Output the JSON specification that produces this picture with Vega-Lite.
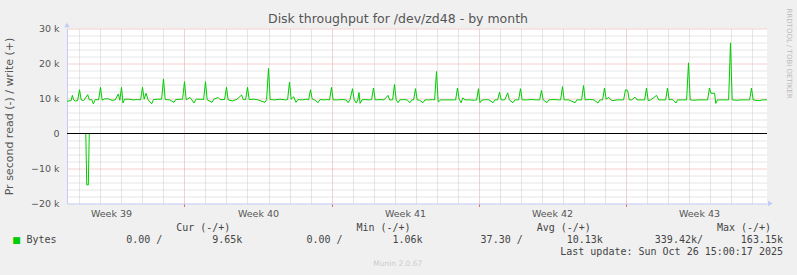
{
  "$schema": "https://vega.github.io/schema/vega-lite/v6.json",
  "width": 700,
  "height": 175,
  "autosize": {"type": "none"},
  "padding": {"left": 67, "top": 28.5, "right": 30, "bottom": 71.5},
  "background": "#f0f0f0",
  "config": {"view": {"fill": "white", "stroke": null}, "font": "DejaVu Sans"},
  "title": {"text": "Disk throughput for /dev/zd48 - by month", "font": "DejaVu Sans", "fontSize": 12.5, "fontWeight": "normal", "color": "#555555", "anchor": "middle", "frame": "group", "dx": -19, "offset": 4, "dy": 21},
  "datasets": {
    "write": [
      {"t":1.4048,"w":9200},{"t":1.5,"w":9300},{"t":1.6,"w":9400},{"t":1.66,"w":10900},{"t":1.72,"w":9600},{"t":1.8,"w":9300},{"t":1.91,"w":9400},
      {"t":2.0,"w":12500},{"t":2.08,"w":9600},{"t":2.2,"w":9400},{"t":2.39,"w":11100},{"t":2.47,"w":9600},{"t":2.58,"w":9700},{"t":2.66,"w":8500},{"t":2.75,"w":9700},{"t":2.91,"w":9600},
      {"t":3.0,"w":13200},{"t":3.08,"w":9500},{"t":3.2,"w":9900},{"t":3.37,"w":9900},{"t":3.55,"w":9500},{"t":3.7,"w":9600},{"t":3.85,"w":11300},{"t":3.92,"w":9500},
      {"t":4.0,"w":13200},{"t":4.07,"w":8700},{"t":4.15,"w":9800},{"t":4.35,"w":9800},{"t":4.55,"w":9600},{"t":4.75,"w":9700},{"t":4.91,"w":9600},
      {"t":5.0,"w":13200},{"t":5.08,"w":9800},{"t":5.17,"w":11500},{"t":5.27,"w":9600},{"t":5.44,"w":8500},{"t":5.52,"w":9700},{"t":5.75,"w":9800},{"t":5.91,"w":9800},
      {"t":6.0,"w":15600},{"t":6.08,"w":9700},{"t":6.3,"w":9600},{"t":6.5,"w":8900},{"t":6.58,"w":9700},{"t":6.8,"w":9800},{"t":6.91,"w":9800},
      {"t":7.0,"w":14800},{"t":7.08,"w":9600},{"t":7.26,"w":10300},{"t":7.35,"w":9600},{"t":7.45,"w":8700},{"t":7.55,"w":9800},{"t":7.8,"w":9800},{"t":7.91,"w":9700},
      {"t":8.0,"w":14800},{"t":8.08,"w":9600},{"t":8.31,"w":8900},{"t":8.4,"w":9800},{"t":8.6,"w":10300},{"t":8.7,"w":9700},{"t":8.91,"w":9700},
      {"t":9.0,"w":13200},{"t":9.08,"w":9600},{"t":9.3,"w":9300},{"t":9.5,"w":9800},{"t":9.72,"w":11000},{"t":9.8,"w":9700},{"t":9.91,"w":9700},
      {"t":10.0,"w":13200},{"t":10.08,"w":9700},{"t":10.3,"w":9800},{"t":10.5,"w":9600},{"t":10.83,"w":8900},{"t":10.91,"w":9700},
      {"t":11.0,"w":18600},{"t":11.08,"w":9700},{"t":11.3,"w":9600},{"t":11.55,"w":9800},{"t":11.8,"w":9600},{"t":11.91,"w":9700},
      {"t":12.0,"w":14700},{"t":12.08,"w":9800},{"t":12.2,"w":10500},{"t":12.31,"w":8900},{"t":12.4,"w":9700},{"t":12.6,"w":9600},{"t":12.8,"w":9800},{"t":12.91,"w":9600},
      {"t":13.0,"w":12500},{"t":13.08,"w":9900},{"t":13.2,"w":9600},{"t":13.36,"w":8800},{"t":13.45,"w":9700},{"t":13.65,"w":9600},{"t":13.8,"w":9700},{"t":13.91,"w":9600},
      {"t":14.0,"w":13200},{"t":14.08,"w":9600},{"t":14.3,"w":9600},{"t":14.5,"w":9700},{"t":14.7,"w":9600},{"t":14.79,"w":8800},{"t":14.88,"w":9600},
      {"t":15.0,"w":12800},{"t":15.08,"w":9600},{"t":15.18,"w":8700},{"t":15.25,"w":9600},{"t":15.31,"w":11700},{"t":15.36,"w":8600},{"t":15.45,"w":9600},{"t":15.6,"w":9700},{"t":15.8,"w":9600},{"t":15.91,"w":9700},
      {"t":16.0,"w":13000},{"t":16.08,"w":9600},{"t":16.3,"w":9700},{"t":16.5,"w":9600},{"t":16.69,"w":10900},{"t":16.77,"w":9600},{"t":16.91,"w":9600},
      {"t":17.0,"w":14000},{"t":17.08,"w":9600},{"t":17.17,"w":8800},{"t":17.25,"w":9600},{"t":17.45,"w":9700},{"t":17.6,"w":9600},{"t":17.74,"w":8800},{"t":17.82,"w":9600},{"t":17.91,"w":9600},
      {"t":18.0,"w":12800},{"t":18.08,"w":9600},{"t":18.2,"w":9500},{"t":18.36,"w":8800},{"t":18.45,"w":9600},{"t":18.65,"w":9600},{"t":18.8,"w":9700},{"t":18.91,"w":9600},
      {"t":19.0,"w":17700},{"t":19.08,"w":9000},{"t":19.2,"w":9600},{"t":19.5,"w":9600},{"t":19.8,"w":9600},{"t":19.91,"w":9600},
      {"t":20.0,"w":13000},{"t":20.08,"w":9800},{"t":20.17,"w":8800},{"t":20.26,"w":10200},{"t":20.35,"w":9600},{"t":20.6,"w":9600},{"t":20.8,"w":9500},{"t":20.91,"w":9600},
      {"t":21.0,"w":12800},{"t":21.07,"w":8800},{"t":21.15,"w":9500},{"t":21.35,"w":9700},{"t":21.5,"w":9600},{"t":21.69,"w":8800},{"t":21.78,"w":9600},{"t":21.91,"w":9600},
      {"t":22.0,"w":11800},{"t":22.08,"w":9600},{"t":22.25,"w":9600},{"t":22.39,"w":11600},{"t":22.47,"w":9600},{"t":22.64,"w":8800},{"t":22.73,"w":9600},{"t":22.91,"w":9600},
      {"t":23.0,"w":12800},{"t":23.08,"w":9600},{"t":23.3,"w":9600},{"t":23.5,"w":9700},{"t":23.75,"w":9600},{"t":23.91,"w":9600},
      {"t":24.0,"w":12300},{"t":24.08,"w":9600},{"t":24.26,"w":8800},{"t":24.35,"w":9600},{"t":24.6,"w":9700},{"t":24.8,"w":9600},{"t":24.91,"w":9600},
      {"t":25.0,"w":13400},{"t":25.08,"w":9600},{"t":25.3,"w":9600},{"t":25.6,"w":8800},{"t":25.68,"w":9600},{"t":25.91,"w":9600},
      {"t":26.0,"w":13700},{"t":26.08,"w":9600},{"t":26.3,"w":9700},{"t":26.5,"w":9600},{"t":26.69,"w":8700},{"t":26.78,"w":9600},{"t":26.91,"w":9600},
      {"t":27.0,"w":13000},{"t":27.08,"w":9800},{"t":27.2,"w":10300},{"t":27.3,"w":9600},{"t":27.4,"w":9400},{"t":27.6,"w":9600},{"t":27.91,"w":9600},
      {"t":28.0,"w":12500},{"t":28.1,"w":12300},{"t":28.18,"w":9600},{"t":28.3,"w":9600},{"t":28.45,"w":10400},{"t":28.55,"w":9600},{"t":28.91,"w":9600},
      {"t":29.0,"w":13000},{"t":29.08,"w":9400},{"t":29.2,"w":9600},{"t":29.48,"w":10900},{"t":29.58,"w":9600},{"t":29.75,"w":9600},{"t":29.91,"w":9600},
      {"t":30.0,"w":13000},{"t":30.08,"w":9600},{"t":30.2,"w":9800},{"t":30.3,"w":9400},{"t":30.4,"w":8700},{"t":30.48,"w":9600},{"t":30.7,"w":9600},{"t":30.91,"w":9600},
      {"t":31.0,"w":20200},{"t":31.08,"w":9600},{"t":31.2,"w":9500},{"t":31.5,"w":9600},{"t":31.8,"w":9600},{"t":31.91,"w":9600},
      {"t":32.0,"w":13000},{"t":32.07,"w":11500},{"t":32.24,"w":11500},{"t":32.3,"w":8600},{"t":32.38,"w":9600},{"t":32.6,"w":9600},{"t":32.91,"w":9600},
      {"t":33.0,"w":25900},{"t":33.08,"w":9600},{"t":33.31,"w":9500},{"t":33.5,"w":9600},{"t":33.8,"w":9600},{"t":33.91,"w":9600},
      {"t":34.0,"w":13000},{"t":34.08,"w":9600},{"t":34.31,"w":9400},{"t":34.4,"w":9400},{"t":34.5,"w":9600},{"t":34.738,"w":9600}
    ],
    "read": [
      {"t":1.4048,"r":0},{"t":2.3,"r":0},{"t":2.345,"r":-14700},{"t":2.42,"r":-14700},{"t":2.465,"r":0},{"t":34.738,"r":0}
    ],
    "legend": [
      {"col":"Cur","head":"Cur (-/+)","read":"0.00 /","write":"9.65k"},
      {"col":"Min","head":"Min (-/+)","read":"0.00 /","write":"1.06k"},
      {"col":"Avg","head":"Avg (-/+)","read":"37.30 /","write":"10.13k"},
      {"col":"Max","head":"Max (-/+)","read":"339.42k/","write":"163.15k"}
    ]
  },
  "layer": [
    {
      "layer": [
        {
          "data": {"name": "write"},
          "mark": {"type": "line", "color": "#00cc00", "strokeWidth": 1},
          "encoding": {
            "x": {"field": "t", "type": "quantitative",
              "scale": {"domain": [1.404762, 34.738095], "nice": false, "zero": false},
              "axis": {
                "orient": "bottom", "title": null,
                "values": [2,3,4,5,6,8,9,10,11,12,13,15,16,17,18,19,20,22,23,24,25,26,27,29,30,31,32,33,34],
                "grid": true, "gridDash": [1, 1], "gridDashOffset": 0.5, "gridColor": "#cccccc",
                "ticks": false, "labels": false, "domain": false
              }
            },
            "y": {"field": "w", "type": "quantitative",
              "scale": {"domain": [-20000, 30000], "nice": false, "zero": false},
              "axis": {
                "orient": "left", "title": null,
                "values": [-18000,-16000,-14000,-12000,-8000,-6000,-4000,-2000,2000,4000,6000,8000,12000,14000,16000,18000,22000,24000,26000,28000],
                "grid": true, "gridDash": [1, 1], "gridColor": "#cccccc",
                "ticks": false, "labels": false, "domain": false
              }
            }
          }
        },
        {
          "data": {"name": "read"},
          "mark": {"type": "line", "color": "#00cc00", "strokeWidth": 1},
          "encoding": {
            "x": {"field": "t", "type": "quantitative",
              "axis": {
                "orient": "bottom", "title": null,
                "values": [7, 14, 21, 28],
                "grid": true, "gridDash": [1, 1], "gridDashOffset": 0.5, "gridColor": "#e8a0a0",
                "ticks": true, "tickSize": 3, "tickColor": "#e07070",
                "labels": false, "domain": false
              }
            },
            "y": {"field": "r", "type": "quantitative",
              "axis": {
                "orient": "left", "title": null,
                "values": [-10000, 10000, 20000, 30000],
                "grid": true, "gridDash": [1, 1], "gridColor": "#e8a0a0",
                "ticks": false, "labels": false, "domain": false
              }
            }
          }
        },
        {
          "data": {"values": [{}]},
          "mark": {"type": "rule", "color": "#000000", "strokeWidth": 1},
          "encoding": {
            "x": {"datum": 3.5, "type": "quantitative",
              "axis": {
                "orient": "bottom", "title": null,
                "values": [3.5, 10.5, 17.5, 24.5, 31.5],
                "grid": false, "ticks": false,
                "domain": true, "domainColor": "#c4ccf4",
                "labelExpr": "'Week ' + (39 + floor(datum.value / 7))",
                "labelOverlap": false, "labelBound": false, "labelFlush": false,
                "labelFont": "DejaVu Sans", "labelFontSize": 9.5, "labelColor": "#555555", "labelPadding": 5
              }
            },
            "x2": {"datum": 3.5},
            "y": {"datum": 0, "type": "quantitative",
              "axis": {
                "orient": "left",
                "title": "Pr second read (-) / write (+)",
                "titleFont": "DejaVu Sans", "titleFontSize": 11, "titleFontWeight": "normal", "titleColor": "#555555", "titlePadding": 16,
                "values": [-20000, -10000, 0, 10000, 20000, 30000],
                "grid": false, "ticks": false,
                "domain": true, "domainColor": "#c4ccf4",
                "labelExpr": "datum.value === 0 ? '0' : format(datum.value / 1000, 'd') + ' k'",
                "labelOverlap": false, "labelBound": false, "labelFlush": false,
                "labelFont": "DejaVu Sans", "labelFontSize": 9.5, "labelColor": "#555555", "labelPadding": 8
              }
            }
          }
        },
        {
          "data": {"values": [{}]},
          "mark": {"type": "rule", "color": "#000000", "strokeWidth": 1},
          "encoding": {"y": {"datum": 0, "type": "quantitative", "axis": null}}
        },
        {
          "data": {"values": [{}]},
          "mark": {"type": "point", "shape": "triangle-up", "filled": true, "color": "#c4ccf4", "size": 30, "opacity": 1},
          "encoding": {"x": {"datum": 1.404762, "type": "quantitative", "axis": null}, "y": {"datum": 31000, "type": "quantitative", "axis": null}}
        },
        {
          "data": {"values": [{}]},
          "mark": {"type": "point", "shape": "triangle-right", "filled": true, "color": "#c4ccf4", "size": 30, "opacity": 1},
          "encoding": {"x": {"datum": 34.9, "type": "quantitative", "axis": null}, "y": {"datum": -20000, "type": "quantitative", "axis": null}}
        },
        {
          "data": {"values": [{}]},
          "mark": {"type": "text", "text": "RRDTOOL / TOBI OETIKER", "angle": 90, "align": "left", "baseline": "middle", "font": "DejaVu Sans", "fontSize": 7, "color": "#bbbbbb", "dx": -20, "dy": -22},
          "encoding": {"x": {"datum": 34.738095, "type": "quantitative", "axis": null}, "y": {"datum": 30000, "type": "quantitative", "axis": null}}
        }
      ],
      "resolve": {"axis": {"x": "independent", "y": "independent"}}
    },
    {
      "data": {"name": "legend"},
      "encoding": {
        "x": {"field": "col", "type": "nominal", "scale": {"type": "point", "domain": ["Bytes","Cur","Min","Avg","Max"], "range": [-5, 716], "padding": 0}, "axis": null}
      },
      "layer": [
        {
          "mark": {"type": "text", "align": "center", "baseline": "middle", "font": "DejaVu Sans Mono", "fontSize": 10, "color": "#444444", "dx": -39},
          "encoding": {
            "y": {"datum": "head", "type": "nominal", "scale": {"type": "point", "domain": ["head","vals","update","munin"], "range": [199, 235], "padding": 0}, "axis": null},
            "text": {"field": "head"}
          }
        },
        {
          "mark": {"type": "text", "align": "right", "baseline": "middle", "font": "DejaVu Sans Mono", "fontSize": 10, "color": "#444444", "dx": -80},
          "encoding": {"y": {"datum": "vals", "type": "nominal"}, "text": {"field": "read"}}
        },
        {
          "mark": {"type": "text", "align": "right", "baseline": "middle", "font": "DejaVu Sans Mono", "fontSize": 10, "color": "#444444"},
          "encoding": {"y": {"datum": "vals", "type": "nominal"}, "text": {"field": "write"}}
        },
        {
          "data": {"values": [{"label": "Bytes"}]},
          "mark": {"type": "text", "align": "left", "baseline": "middle", "font": "DejaVu Sans Mono", "fontSize": 10, "color": "#444444", "dx": -35.5},
          "encoding": {"x": {"datum": "Bytes", "type": "nominal"}, "y": {"datum": "vals", "type": "nominal"}, "text": {"field": "label"}}
        },
        {
          "data": {"values": [{"label": "■"}]},
          "mark": {"type": "text", "align": "center", "baseline": "middle", "font": "DejaVu Sans", "fontSize": 9, "color": "#00cc00", "dx": -45.5},
          "encoding": {"x": {"datum": "Bytes", "type": "nominal"}, "y": {"datum": "vals", "type": "nominal"}, "text": {"field": "label"}}
        },
        {
          "data": {"values": [{"label": "Last update: Sun Oct 26 15:00:17 2025"}]},
          "mark": {"type": "text", "align": "right", "baseline": "middle", "font": "DejaVu Sans Mono", "fontSize": 10, "color": "#444444"},
          "encoding": {"x": {"datum": "Max", "type": "nominal"}, "y": {"datum": "update", "type": "nominal"}, "text": {"field": "label"}}
        },
        {
          "data": {"values": [{"label": "Munin 2.0.67"}]},
          "mark": {"type": "text", "align": "center", "baseline": "middle", "font": "DejaVu Sans", "fontSize": 7.5, "color": "#cccccc", "dx": -24.7},
          "encoding": {"x": {"datum": "Min", "type": "nominal"}, "y": {"datum": "munin", "type": "nominal"}, "text": {"field": "label"}}
        }
      ]
    }
  ],
  "resolve": {"scale": {"x": "independent", "y": "independent"}}
}
